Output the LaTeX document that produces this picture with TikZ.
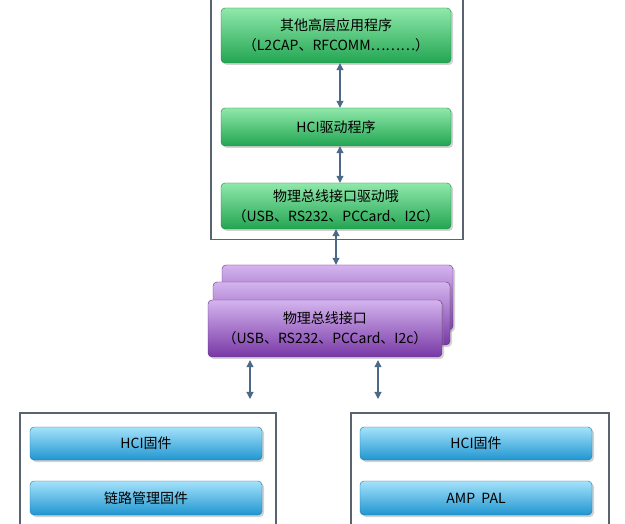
\documentclass[tikz,border=0pt]{standalone}
\usepackage{fontspec}
\setmainfont{Noto Sans CJK SC}
\usepackage{xcolor}
\usetikzlibrary{arrows.meta,shadows}

\definecolor{greenmid}{HTML}{34CB68}
\definecolor{greentop}{HTML}{8FE8AA}
\definecolor{greenbot}{HTML}{22A552}
\definecolor{purplemid}{HTML}{9C5CC8}
\definecolor{purpletop}{HTML}{D4B4EE}
\definecolor{purplebot}{HTML}{7838A6}
\definecolor{bluemid}{HTML}{36B8EE}
\definecolor{bluetop}{HTML}{A4E2FB}
\definecolor{bluebot}{HTML}{2096D0}
\definecolor{framegray}{HTML}{5A6470}
\definecolor{linkblue}{HTML}{4C6A88}

\begin{document}
\begin{tikzpicture}[x=1pt, y=-1pt,
    frame/.style={draw=framegray, line width=1.2pt, fill=white, inner sep=0pt},
    bar/.style={rounded corners=4pt, inner sep=0pt, align=center, font=\fontsize{14}{20}\selectfont,
        drop shadow={shadow xshift=2pt, shadow yshift=-2pt, opacity=0.35}},
    greenbar/.style={bar, draw=greenbot!80!black, top color=greentop, middle color=greenmid, bottom color=greenbot},
    purplebar/.style={bar, draw=purplebot!80!black, top color=purpletop, middle color=purplemid, bottom color=purplebot},
    bluebar/.style={bar, draw=bluebot!80!black, top color=bluetop, middle color=bluemid, bottom color=bluebot},
    link/.style={{Triangle[width=7pt,length=7pt]}-{Triangle[width=7pt,length=7pt]}, draw=linkblue, line width=1.1pt}]
    \useasboundingbox[fill=white] (0,0) rectangle (625,524);

    % --- Host side ---
    \node[frame, minimum width=252pt, minimum height=259pt] (host) at (337,110) {};
    \node[greenbar, minimum width=230pt, minimum height=55pt] (app) at (336,35.5)
        {其他高层应用程序\\（L2CAP、RFCOMM………）};
    \node[greenbar, minimum width=230pt, minimum height=38pt] (hcidrv) at (336,127) {HCI驱动程序};
    \node[greenbar, minimum width=230pt, minimum height=46pt] (busdrv) at (336,206)
        {物理总线接口驱动哦\\（USB、RS232、PCCard、I2C）};

    \draw[link] ([xshift=4pt]app.south) -- ([xshift=4pt]hcidrv.north);
    \draw[link] ([xshift=4pt]hcidrv.south) -- ([xshift=4pt]busdrv.north);

    % --- Physical bus (stacked) ---
    \node[purplebar, minimum width=231pt, minimum height=65pt] (busback) at (337.5,297.5) {};
    \node[purplebar, minimum width=237pt, minimum height=63pt] (busmid) at (331.5,313.5) {};
    \node[purplebar, minimum width=234pt, minimum height=57pt] (busif) at (325,328.5)
        {物理总线接口\\（USB、RS232、PCCard、I2c）};

    \draw[link] (busdrv.south) -- (busdrv.south |- busback.north);

    % --- Controller sides ---
    \node[frame, minimum width=256pt, minimum height=127pt] (ctrl) at (148,476.5) {};
    \node[frame, minimum width=258pt, minimum height=127pt] (amp) at (480,476.5) {};

    \node[bluebar, minimum width=232pt, minimum height=33pt] (ctrlhci) at (146,443.5) {HCI固件};
    \node[bluebar, minimum width=232pt, minimum height=34pt] (lmfw) at (146,498) {链路管理固件};
    \node[bluebar, minimum width=232pt, minimum height=33pt] (amphci) at (476,443.5) {HCI固件};
    \node[bluebar, minimum width=232pt, minimum height=34pt] (amppal) at (476,498) {AMP\ \ PAL};

    \coordinate (ctrlin) at (250,399);
    \coordinate (ampin) at (378,399);
    \draw[link] (busif.south -| ctrlin) ++(0,3) -- (ctrlin);
    \draw[link] (busif.south -| ampin) ++(0,3) -- (ampin);
\end{tikzpicture}
\end{document}
